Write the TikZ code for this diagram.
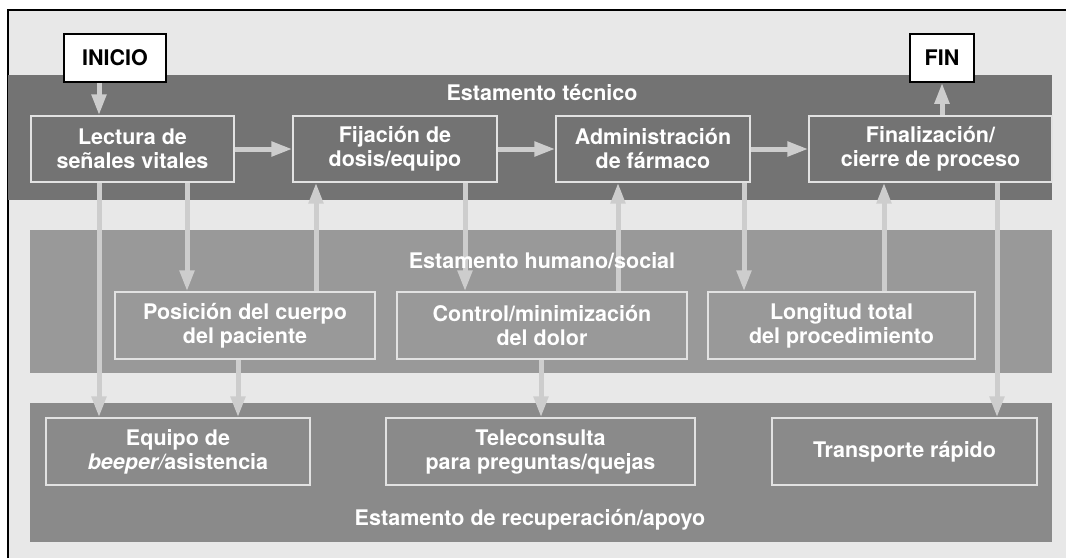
\documentclass[tikz,border=0pt]{standalone}
\usepackage{fontspec}
\setmainfont{TeX Gyre Heros}
\usetikzlibrary{arrows.meta}
\definecolor{bgLight}{HTML}{E8E8E8}
\definecolor{bandTech}{HTML}{737373}
\definecolor{bandHum}{HTML}{999999}
\definecolor{bandRec}{HTML}{8A8A8A}
\definecolor{flowGray}{HTML}{CDCDCD}
\definecolor{boxLine}{HTML}{E2E2E2}
\newcommand{\diagFont}{\bfseries\fontsize{21.5}{24}\selectfont}
\tikzset{
    stage/.style={draw=boxLine, line width=1.3pt, text=white, align=center,
        inner sep=0pt, font=\diagFont},
    endpoint/.style={draw=black, fill=white, line width=1.5pt, text=black,
        inner sep=0pt, minimum height=48pt, font=\diagFont},
    flow/.style={draw=flowGray, line width=5pt, -{Triangle[length=21pt,width=14pt]}},
    bandlabel/.style={text=white, anchor=base, inner sep=0pt, font=\diagFont}
}

\begin{document}
\begin{tikzpicture}[x=1pt, y=-1pt]
    \useasboundingbox (0,0) rectangle (1066,558);
    % frame and bands
    \fill[bgLight] (8,10) rectangle (1066,558);
    \draw[line width=1.5pt] (8,558) -- (8,10) -- (1066,10);
    \fill[bandTech] (8,75) rectangle (1052,200);
    \fill[bandHum] (30,230) rectangle (1052,373);
    \fill[bandRec] (30,403) rectangle (1052,542);

    \node[endpoint, minimum width=102pt] (ini) at (115,58) {INICIO};
    \node[endpoint, minimum width=64pt] (end) at (942,58) {FIN};

    \node[stage, minimum width=203pt, minimum height=66pt] (lect) at (132.5,149) {Lectura de\\señales vitales};
    \node[stage, minimum width=204pt, minimum height=66pt] (fij) at (395,149) {Fijación de\\dosis/equipo};
    \node[stage, minimum width=194pt, minimum height=66pt] (adm) at (653,149) {Administración\\de fármaco};
    \node[stage, minimum width=243pt, minimum height=66pt] (fin) at (930.5,149) {Finalización/\\cierre de proceso};

    \node[stage, minimum width=260pt, minimum height=67pt] (pos) at (245,325.5) {Posición del cuerpo\\del paciente};
    \node[stage, minimum width=290pt, minimum height=67pt] (ctrl) at (542,325.5) {Control/minimización\\del dolor};
    \node[stage, minimum width=267pt, minimum height=67pt] (long) at (841.5,325.5) {Longitud total\\del procedimiento};

    \node[stage, minimum width=264pt, minimum height=67pt] (equ) at (178,451.5) {Equipo de\\{\itshape beeper/}asistencia};
    \node[stage, minimum width=309pt, minimum height=67pt] (tele) at (540.5,451.5) {Teleconsulta\\para preguntas/quejas};
    \node[stage, minimum width=265pt, minimum height=67pt] (trans) at (904.5,451.5) {Transporte rápido};

    % connectors
    \draw[flow] (lect) -- (fij);
    \draw[flow] (fij) -- (adm);
    \draw[flow] (adm) -- (fin);
    \foreach \a/\b/\x in {ini/lect/99, lect/equ/99, lect/pos/187, pos/equ/238,
        fij/ctrl/465, ctrl/tele/541, adm/long/744, fin/trans/997} {
        \draw[flow] (\a.south -| \x,0) -- (\b.north -| \x,0);
    }
    \foreach \a/\b/\x in {pos/fij/316, ctrl/adm/618, long/fin/884, fin/end/942} {
        \draw[flow] (\a.north -| \x,0) -- (\b.south -| \x,0);
    }

    \node[bandlabel] (tech) at (542,100) {Estamento técnico};
    \node[bandlabel] (hum) at (542,268) {Estamento humano/social};
    \node[bandlabel] (rec) at (530,525) {Estamento de recuperación/apoyo};
\end{tikzpicture}
\end{document}
